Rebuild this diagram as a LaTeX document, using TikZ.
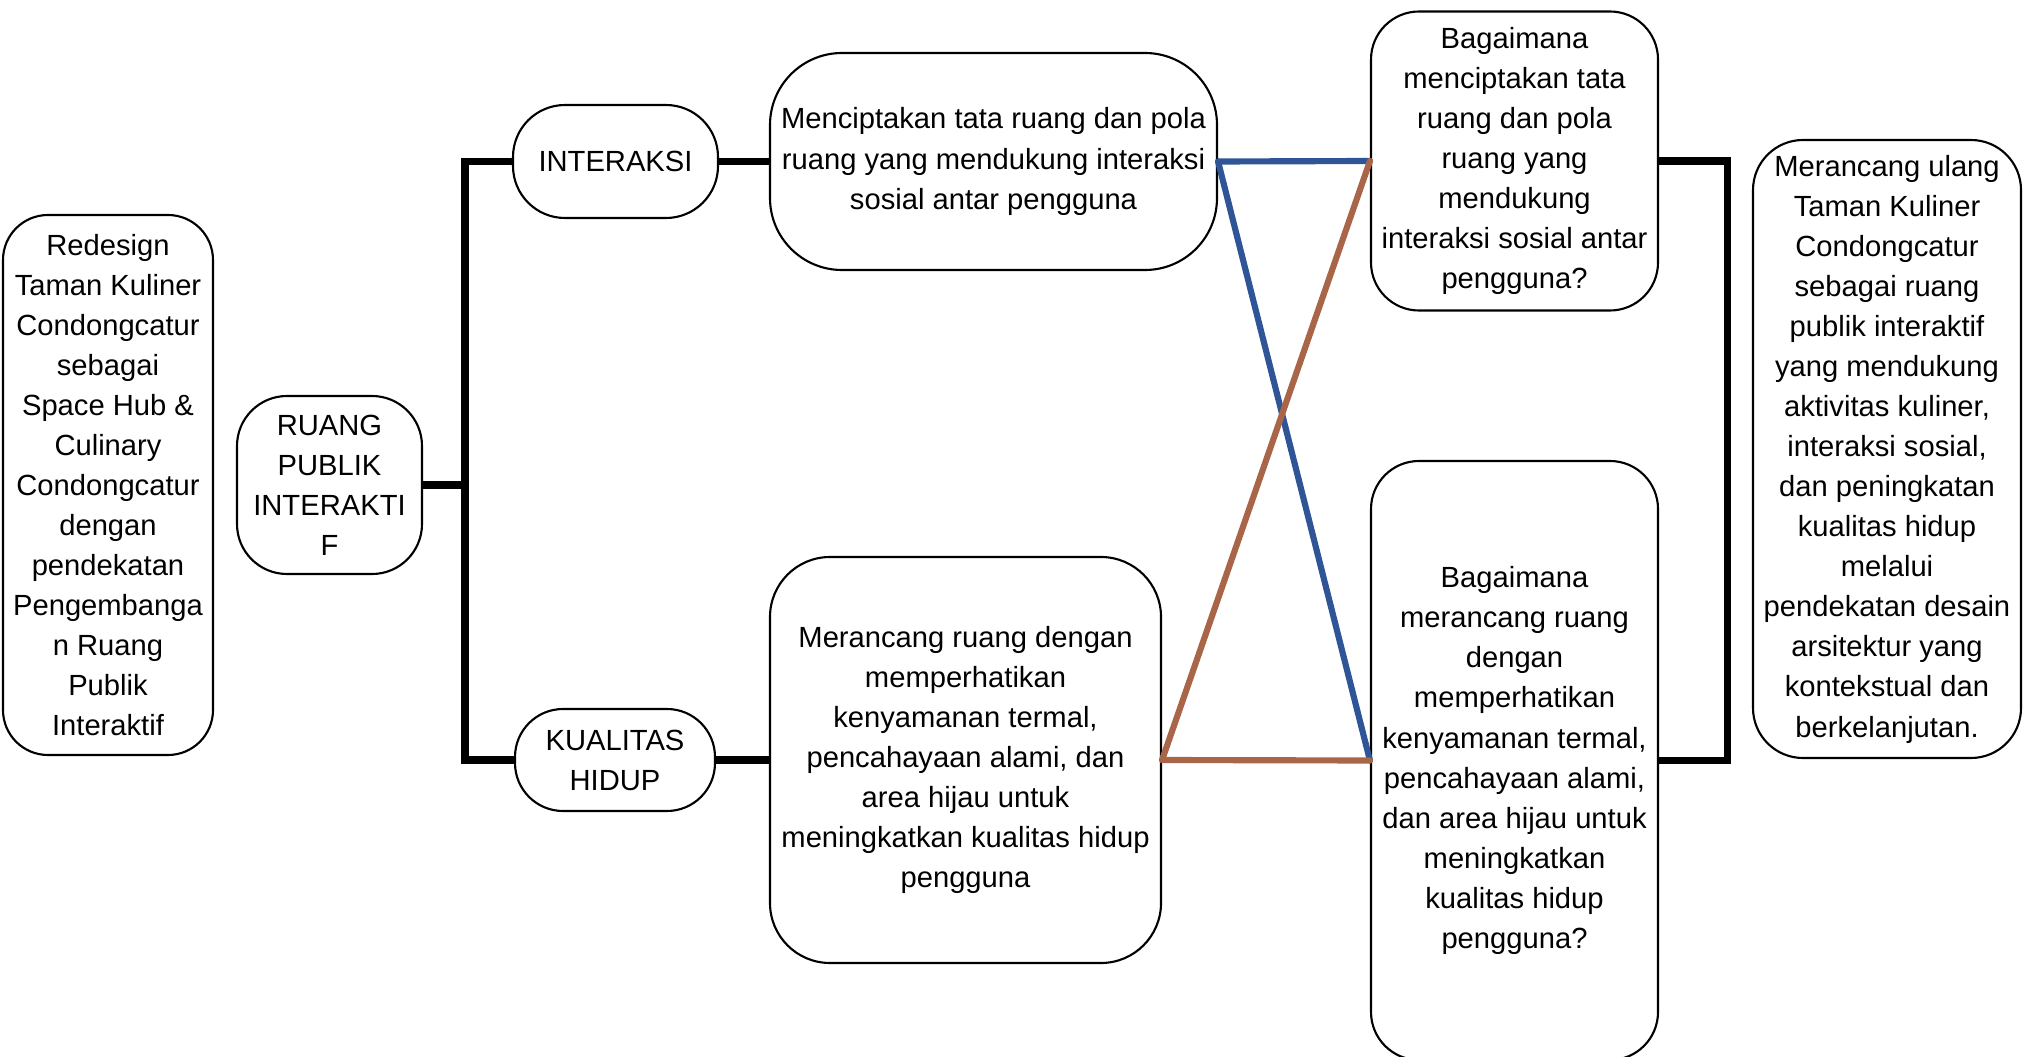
\documentclass[tikz,border=0pt]{standalone}
\usepackage{fontspec}
\setmainfont{Liberation Sans}
\definecolor{linkblue}{HTML}{2F5597}
\definecolor{linkbrown}{HTML}{A86547}
\begin{document}
\begin{tikzpicture}[
    box/.style={draw, line width=0.6pt, rounded corners=#1, align=center, inner sep=0pt,
        font=\fontsize{8.3}{11.4}\selectfont},
    box/.default=0.45cm,
    trunk/.style={line width=2pt, black},
    link/.style={line width=1.75pt, line cap=round}
]
    \useasboundingbox (0,0) rectangle (20.35,-10.57);

    \node[box, minimum width=2.10cm, minimum height=5.40cm] (redesign) at (1.08,-4.85)
        {Redesign\\Taman Kuliner\\Condongcatur\\sebagai\\Space Hub \&\\Culinary\\Condongcatur\\dengan\\pendekatan\\Pengembanga\\n Ruang\\Publik\\Interaktif};
    \node[box=0.5cm, minimum width=1.85cm, minimum height=1.78cm] (ruang) at (3.295,-4.85)
        {RUANG\\PUBLIK\\INTERAKTI\\F};
    \node[box=0.52cm, minimum width=2.05cm, minimum height=1.13cm] (interaksi) at (6.155,-1.615) {INTERAKSI};
    \node[box=0.48cm, minimum width=2.00cm, minimum height=1.02cm] (kualitas) at (6.15,-7.60) {KUALITAS\\HIDUP};
    \node[box=0.72cm, minimum width=4.47cm, minimum height=2.17cm] (mencipta) at (9.935,-1.615)
        {Menciptakan tata ruang dan pola\\ruang yang mendukung interaksi\\sosial antar pengguna};
    \node[box=0.6cm, minimum width=3.91cm, minimum height=4.06cm] (merancang) at (9.655,-7.60)
        {Merancang ruang dengan\\memperhatikan\\kenyamanan termal,\\pencahayaan alami, dan\\area hijau untuk\\meningkatkan kualitas hidup\\pengguna};
    \node[box=0.48cm, minimum width=2.87cm, minimum height=2.99cm] (tanya1) at (15.145,-1.61)
        {Bagaimana\\menciptakan tata\\ruang dan pola\\ruang yang\\mendukung\\interaksi sosial antar\\pengguna?};
    \node[box=0.48cm, minimum width=2.87cm, minimum height=5.99cm] (tanya2) at (15.145,-7.605)
        {Bagaimana\\merancang ruang\\dengan\\memperhatikan\\kenyamanan termal,\\pencahayaan alami,\\dan area hijau untuk\\meningkatkan\\kualitas hidup\\pengguna?};
    \node[box=0.5cm, minimum width=2.68cm, minimum height=6.18cm] (tujuan) at (18.87,-4.49)
        {Merancang ulang\\Taman Kuliner\\Condongcatur\\sebagai ruang\\publik interaktif\\yang mendukung\\aktivitas kuliner,\\interaksi sosial,\\dan peningkatan\\kualitas hidup\\melalui\\pendekatan desain\\arsitektur yang\\kontekstual dan\\berkelanjutan.};

    \coordinate (bus) at (4.65,0);
    \coordinate (rail) at (17.27,0);

    \draw[trunk] (ruang.east) -- (ruang.east -| bus);
    \draw[trunk] (interaksi.west) -- (interaksi.west -| bus) -- (kualitas.west -| bus) -- (kualitas.west);
    \draw[trunk] (interaksi.east) -- (mencipta.west);
    \draw[trunk] (kualitas.east) -- (merancang.west);
    \draw[trunk] (tanya1.east) -- (tanya1.east -| rail) -- (tanya2.east -| rail) -- (tanya2.east);

    \draw[link, linkblue] (mencipta.east) -- (tanya1.west);
    \draw[link, linkblue] (mencipta.east) -- (tanya2.west);
    \draw[link, linkbrown] (merancang.east) -- (tanya2.west);
    \draw[link, linkbrown] (merancang.east) -- (tanya1.west);
\end{tikzpicture}
\end{document}
